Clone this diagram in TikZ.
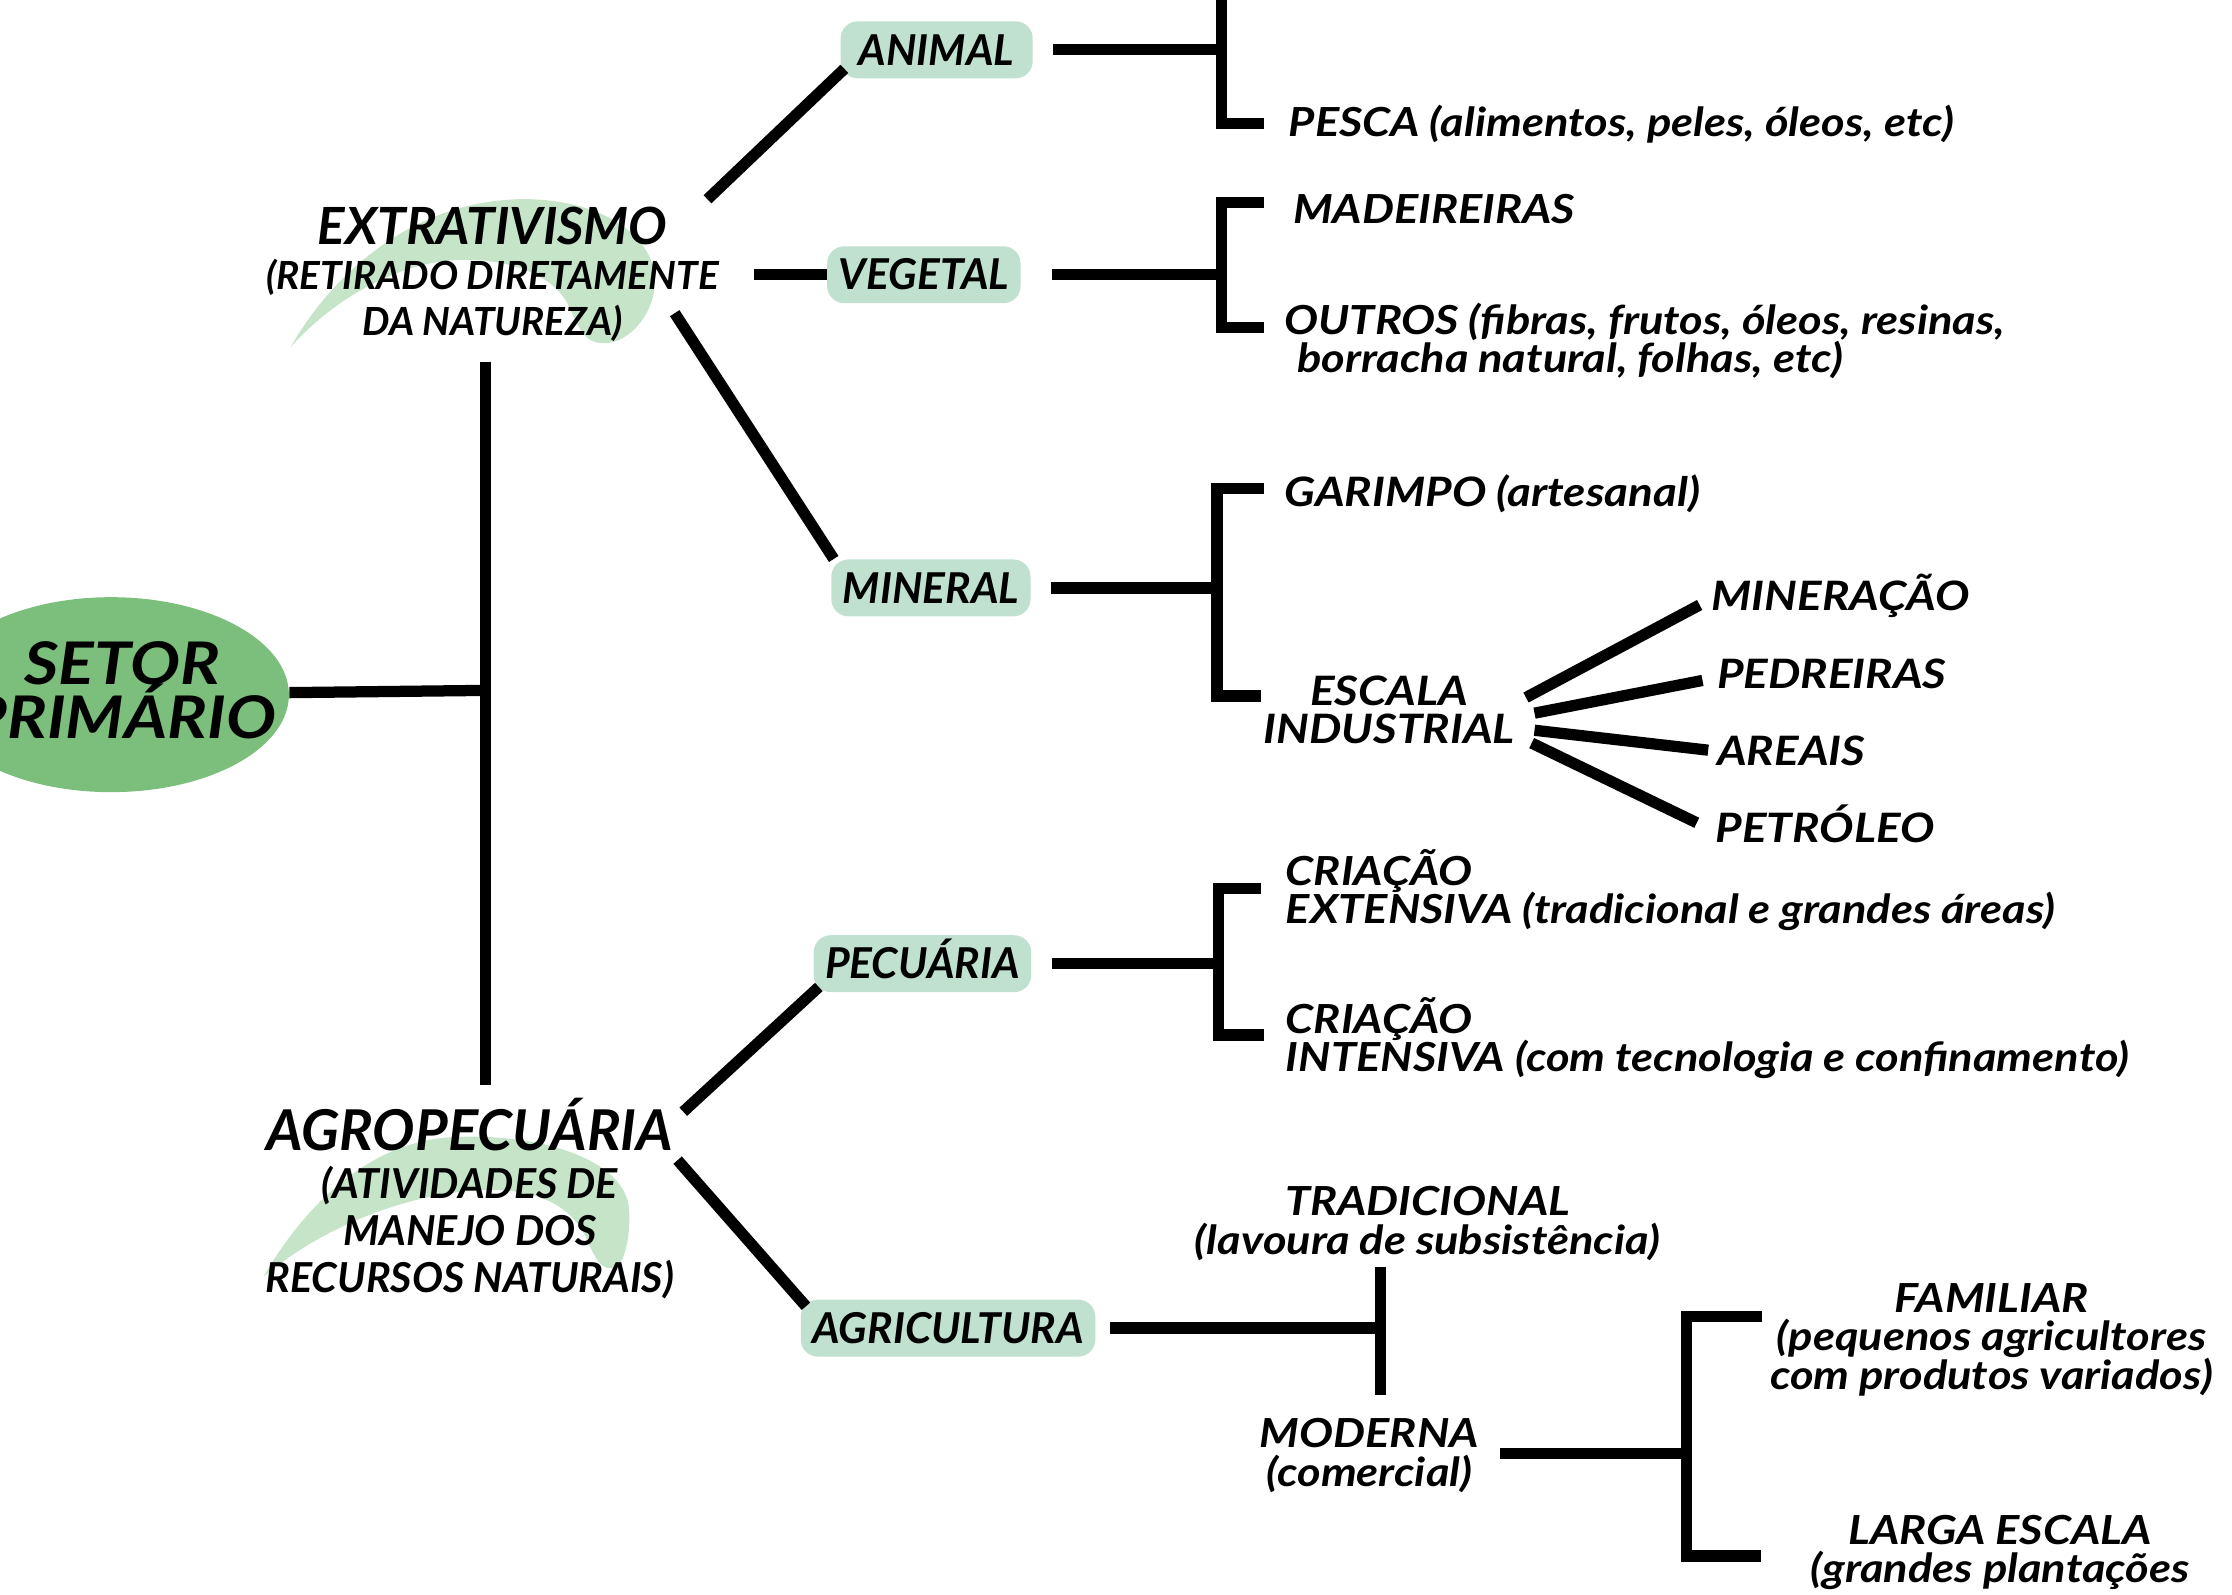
\documentclass[tikz,border=0pt]{standalone}
\usepackage{fontspec}
\setmainfont{Lato}
\newfontfamily\broad{Lato}[FakeStretch=1.13]
\usetikzlibrary{shapes.geometric}

\definecolor{setorgreen}{HTML}{7CBE7C}
\definecolor{catgreen}{HTML}{C0E1CF}
\definecolor{leafgreen}{HTML}{C6E5C8}

\newcommand{\tightlines}{\lineskiplimit=-\maxdimen}

\begin{document}
\begin{tikzpicture}[x=0.02cm,y=0.02cm]
\tikzstyle{every node}+=[inner sep=0pt]
\tikzstyle{link}=[black, line width=4.5pt]
\tikzstyle{catbox}=[fill=catgreen, rounded corners=0.24cm, minimum height=0.8cm, inner xsep=0.16cm, text height=12.2pt, text depth=0pt, font=\fontsize{17}{20}\selectfont\bfseries\itshape]
\tikzstyle{head}=[anchor=base, font=\fontsize{20.5}{22}\selectfont\bfseries\itshape]
\tikzstyle{headsub}=[anchor=base, align=center, font=\fontsize{15.5}{18.5}\selectfont\tightlines\bfseries\itshape]
\tikzstyle{leaf}=[anchor=base west, align=left, font=\fontsize{16}{15.4}\selectfont\broad\tightlines\bfseries\itshape]
\tikzstyle{leafmid}=[anchor=base, align=center, font=\fontsize{16}{15.4}\selectfont\broad\tightlines\bfseries\itshape]
\tikzstyle{leafwide}=[anchor=base west, font=\fontsize{16.2}{18}\selectfont\broad\bfseries\itshape]

\useasboundingbox (0,0) rectangle (1568,-1120);
\clip (0,0) rectangle (1568,-1120);

% green swooshes behind the two headings
\fill [leafgreen] (204,-244) .. controls (235,-190) and (290,-143) .. (362,-140) .. controls (420,-138) and (462,-165) .. (460,-200) .. controls (459,-222) and (440,-243) .. (422,-241) .. controls (408,-240) and (405,-225) .. (398,-212) .. controls (385,-190) and (350,-180) .. (315,-183) .. controls (270,-188) and (230,-215) .. cycle;
\fill [leafgreen] (185,-897) .. controls (215,-845) and (260,-803) .. (315,-799) .. controls (380,-795) and (440,-815) .. (442,-850) .. controls (443,-872) and (438,-890) .. (430,-891) .. controls (420,-892) and (416,-878) .. (410,-866) .. controls (398,-845) and (375,-836) .. (345,-836) .. controls (300,-836) and (235,-855) .. cycle;

% root
\node [ellipse, fill=setorgreen, minimum width=5cm, minimum height=2.74cm] (setor) at (78,-488) {};
\node [anchor=base, align=center, font=\fontsize{23.5}{21.8}\selectfont\broad\tightlines\bfseries\itshape] (setortxt) at (86,-519) {SETOR\\PRIMÁRIO};

% headings
\node [head] (extrativismo) at (346,-172) {EXTRATIVISMO};
\node [headsub] (extrsub) at (346,-236) {(RETIRADO DIRETAMENTE\\DA NATUREZA)};
\node [head, font=\fontsize{22.5}{24}\selectfont\bfseries\itshape] (agropecuaria) at (330,-808) {AGROPECUÁRIA};
\node [headsub, font=\fontsize{16.5}{18.8}\selectfont\tightlines\bfseries\itshape] (agrosub) at (330,-908) {(ATIVIDADES DE\\MANEJO DOS\\RECURSOS NATURAIS)};

% categories
\node [catbox, minimum width=2.7cm] (animal) at (658,-35) {ANIMAL};
\node [catbox] (vegetal) at (649,-193) {VEGETAL};
\node [catbox] (mineral) at (654,-413) {MINERAL};
\node [catbox] (pecuaria) at (648,-677) {PECUÁRIA};
\node [catbox] (agricultura) at (666,-933) {AGRICULTURA};

% leaves
\node [leaf] (pesca) at (905,-96) {PESCA (alimentos, peles, óleos, etc)};
\node [leaf] (madeireiras) at (908,-157) {MADEIREIRAS};
\node [leaf] (outros) at (902,-262) {OUTROS (fibras, frutos, óleos, resinas,\\\hspace*{0.18cm}borracha natural, folhas, etc)};
\node [leafwide] (garimpo) at (902,-356) {GARIMPO (artesanal)};
\node [anchor=base, align=center, font=\fontsize{16.2}{15}\selectfont\broad\tightlines\bfseries\itshape] (escala) at (976,-522) {ESCALA\\INDUSTRIAL};
\node [leafwide] (mineracao) at (1202,-429) {MINERAÇÃO};
\node [leafwide] (pedreiras) at (1206,-484) {PEDREIRAS};
\node [leafwide] (areais) at (1206,-538) {AREAIS};
\node [leafwide] (petroleo) at (1205,-592) {PETRÓLEO};
\node [leaf] (extensiva) at (903,-649) {CRIAÇÃO\\EXTENSIVA (tradicional e grandes áreas)};
\node [leaf] (intensiva) at (903,-753) {CRIAÇÃO\\INTENSIVA (com tecnologia e confinamento)};
\node [leafmid] (tradicional) at (1003,-881) {TRADICIONAL\\(lavoura de subsistência)};
\node [leafmid] (moderna) at (962,-1044) {MODERNA\\(comercial)};
\node [leafmid] (familiar) at (1399,-976) {FAMILIAR\\(pequenos agricultores\\com produtos variados)};
\node [leafmid] (larga) at (1405,-1112) {LARGA ESCALA\\(grandes plantações};

% joints and line ends
\coordinate (tk) at (341,-485);
\coordinate (tktop) at (341,-254);
\coordinate (tkbot) at (341,-762);
\coordinate (ex1) at (497,-140);
\coordinate (ex2) at (530,-193);
\coordinate (ex3) at (474,-220);
\coordinate (ag1) at (480,-781);
\coordinate (ag2) at (476,-815);
\coordinate (anj) at (858,-35);
\coordinate (ant) at (858,10);
\coordinate (anb) at (888,-87);
\coordinate (vgj) at (858,-193);
\coordinate (vgt) at (888,-142);
\coordinate (vgb) at (888,-230);
\coordinate (mnj) at (855,-413);
\coordinate (mnt) at (888,-343);
\coordinate (mnb) at (886,-489);
\coordinate (pcj) at (856,-677);
\coordinate (pct) at (886,-624);
\coordinate (pcb) at (888,-727);
\coordinate (agj) at (970,-933);
\coordinate (agt) at (970,-890);
\coordinate (agb) at (970,-980);
\coordinate (mdo) at (1054,-1021);
\coordinate (mdj) at (1185,-1021);
\coordinate (mdt) at (1238,-925);
\coordinate (mdb) at (1237,-1093);

% trunk
\draw [link] (setor) -- (tk);
\draw [link] (tktop) -- (tkbot);

% heading to category
\draw [link] (ex1) -- ([shift={(0.06cm,0.14cm)}]animal.south west);
\draw [link] (ex2) -- (vegetal.west);
\draw [link] (ex3) -- ([xshift=0.04cm]mineral.north west);
\draw [link] (ag1) -- ([shift={(0.08cm,0.08cm)}]pecuaria.south west);
\draw [link] (ag2) -- ([shift={(0.08cm,-0.1cm)}]agricultura.north west);

% brackets
\draw [link] ([xshift=0.28cm]animal.east) -- (anj);
\draw [link] (ant) |- (anb);
\draw [link] ([xshift=0.44cm]vegetal.east) -- (vgj);
\draw [link] (vgt) -| (vgj) |- (vgb);
\draw [link] ([xshift=0.28cm]mineral.east) -- (mnj);
\draw [link] (mnt) -| (mnj) |- (mnb);
\draw [link] ([xshift=0.28cm]pecuaria.east) -- (pcj);
\draw [link] (pct) -| (pcj) |- (pcb);
\draw [link] ([xshift=0.2cm]agricultura.east) -- (agj);
\draw [link] (agt) -- (agb);
\draw [link] (mdo) -- (mdj);
\draw [link] (mdt) -| (mdj) |- (mdb);

% industrial fan
\draw [link] (1072,-490) -- (1194,-425);
\draw [link] (1078,-501) -- (1196,-478);
\draw [link] (1078,-513) -- (1200,-527);
\draw [link] (1076,-522) -- (1192,-578);
\end{tikzpicture}
\end{document}
